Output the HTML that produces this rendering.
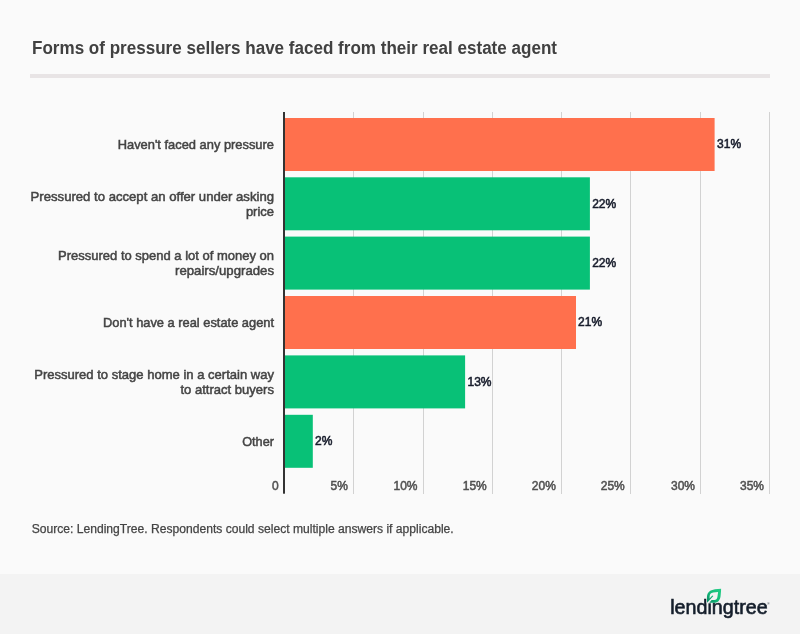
<!DOCTYPE html>
<html lang="en">
<head>
<meta charset="utf-8">
<title>Forms of pressure sellers have faced from their real estate agent</title>
<style>
  html,body{margin:0;padding:0;}
  body{width:800px;height:634px;overflow:hidden;background:#fafafa;font-family:"Liberation Sans",sans-serif;}
  .card{position:relative;width:800px;height:634px;background:#fafafa;overflow:hidden;}
  .footer{position:absolute;left:0;top:574px;width:800px;height:60px;background:#f3f3f3;}
  .rule{position:absolute;left:30px;top:74px;width:740px;height:4px;background:#e8e4e5;}
  svg{position:absolute;left:0;top:0;}
  text{font-family:"Liberation Sans",sans-serif;}
  .title{font-size:17.5px;font-weight:bold;fill:#414141;}
  .cat{font-size:13px;fill:#444;stroke:#444;stroke-width:0.5px;text-anchor:end;}
  .tick{font-size:12px;fill:#505050;stroke:#505050;stroke-width:0.5px;text-anchor:end;}
  .val{font-size:12px;fill:#181d2c;stroke:#181d2c;stroke-width:0.55px;}
  .src{font-size:12px;fill:#444;stroke:#444;stroke-width:0.25px;}
  .logo{font-size:19.6px;fill:#141e2b;stroke:#141e2b;stroke-width:0.6px;}
</style>
</head>
<body>
<div class="card">
  <div class="rule"></div>
  <div class="footer"></div>
  <svg width="800" height="634" viewBox="0 0 800 634">
    <defs>
      <linearGradient id="leafg" x1="1" y1="0" x2="0" y2="1">
        <stop offset="0" stop-color="#22cd86"/>
        <stop offset="0.5" stop-color="#14bd79"/>
        <stop offset="0.8" stop-color="#0d9c6c"/>
        <stop offset="1" stop-color="#0a8a62"/>
      </linearGradient>
    </defs>

    <text class="title" x="32" y="53.75" textLength="525" lengthAdjust="spacingAndGlyphs">Forms of pressure sellers have faced from their real estate agent</text>

    <!-- gridlines -->
    <g fill="#d2d2d2" shape-rendering="crispEdges">
      <rect x="353" y="112" width="1" height="381.7"/>
      <rect x="423" y="112" width="1" height="381.7"/>
      <rect x="492" y="112" width="1" height="381.7"/>
      <rect x="561" y="112" width="1" height="381.7"/>
      <rect x="630" y="112" width="1" height="381.7"/>
      <rect x="700" y="112" width="1" height="381.7"/>
      <rect x="769" y="112" width="1" height="381.7"/>
    </g>

    <!-- bars -->
    <rect x="285" y="118" width="429.6" height="53" fill="#ff704d"/>
    <rect x="285" y="177.3" width="304.9" height="53" fill="#08c177"/>
    <rect x="285" y="236.6" width="304.9" height="53" fill="#08c177"/>
    <rect x="285" y="296" width="291" height="53" fill="#ff704d"/>
    <rect x="285" y="355.4" width="180.1" height="53" fill="#08c177"/>
    <rect x="285" y="414.8" width="27.8" height="53" fill="#08c177"/>

    <!-- axis -->
    <rect x="283" y="112" width="2" height="381.7" fill="#333"/>

    <!-- category labels -->
    <text class="cat" x="274" y="148.8" textLength="156.3" lengthAdjust="spacingAndGlyphs">Haven't faced any pressure</text>
    <text class="cat" x="274" y="200.7" textLength="243.4" lengthAdjust="spacingAndGlyphs">Pressured to accept an offer under asking</text>
    <text class="cat" x="274" y="215.7" textLength="28.1" lengthAdjust="spacingAndGlyphs">price</text>
    <text class="cat" x="274" y="259.7" textLength="215.9" lengthAdjust="spacingAndGlyphs">Pressured to spend a lot of money on</text>
    <text class="cat" x="274" y="274.7" textLength="99" lengthAdjust="spacingAndGlyphs">repairs/upgrades</text>
    <text class="cat" x="274" y="327" textLength="171" lengthAdjust="spacingAndGlyphs">Don't have a real estate agent</text>
    <text class="cat" x="274" y="378.7" textLength="239.8" lengthAdjust="spacingAndGlyphs">Pressured to stage home in a certain way</text>
    <text class="cat" x="274" y="393.7" textLength="93.6" lengthAdjust="spacingAndGlyphs">to attract buyers</text>
    <text class="cat" x="274" y="445.5" textLength="31.8" lengthAdjust="spacingAndGlyphs">Other</text>

    <!-- value labels -->
    <text class="val" x="717.1" y="147.9">31%</text>
    <text class="val" x="592.2" y="207.6">22%</text>
    <text class="val" x="592.2" y="266.5">22%</text>
    <text class="val" x="578.1" y="325.9">21%</text>
    <text class="val" x="467.5" y="385.8">13%</text>
    <text class="val" x="315" y="444.8">2%</text>

    <!-- tick labels -->
    <text class="tick" x="278.7" y="489.8">0</text>
    <text class="tick" x="347.8" y="489.8">5%</text>
    <text class="tick" x="417.5" y="489.8">10%</text>
    <text class="tick" x="486.8" y="489.8">15%</text>
    <text class="tick" x="555.9" y="489.8">20%</text>
    <text class="tick" x="624.8" y="489.8">25%</text>
    <text class="tick" x="695" y="489.8">30%</text>
    <text class="tick" x="764" y="489.8">35%</text>

    <text class="src" x="31.7" y="532.8" textLength="422" lengthAdjust="spacingAndGlyphs">Source: LendingTree. Respondents could select multiple answers if applicable.</text>

    <!-- logo -->
    <g>
      <text class="logo" x="670.2" y="613.8" textLength="97.4" lengthAdjust="spacingAndGlyphs">lendingtree</text>
      <rect x="706.5" y="597.5" width="6" height="5.8" fill="#f3f3f3"/>
      <path fill="url(#leafg)" fill-rule="evenodd" d="M721.1 588.8 C717 589 712.5 589.4 710.2 590.8 C707.6 592.4 706.9 595 706.9 598 L707.1 602.8 L713.4 596 L712.3 595.6 L709.6 598.6 L709.6 597.2 C709.6 594.4 710.8 592.9 713.2 592.6 L718.1 592 L717.4 597 C717.1 599 716.2 599.9 714.3 600 L711.6 600 L709.3 602.7 L715 602.7 C718.6 602.5 720.2 599.5 720.6 596 C720.9 593 721.1 590.6 721.1 588.8 Z"/>
      <text x="767.3" y="605.2" font-size="3.2" fill="#141e2b">®</text>
    </g>
  </svg>
</div>
</body>
</html>
